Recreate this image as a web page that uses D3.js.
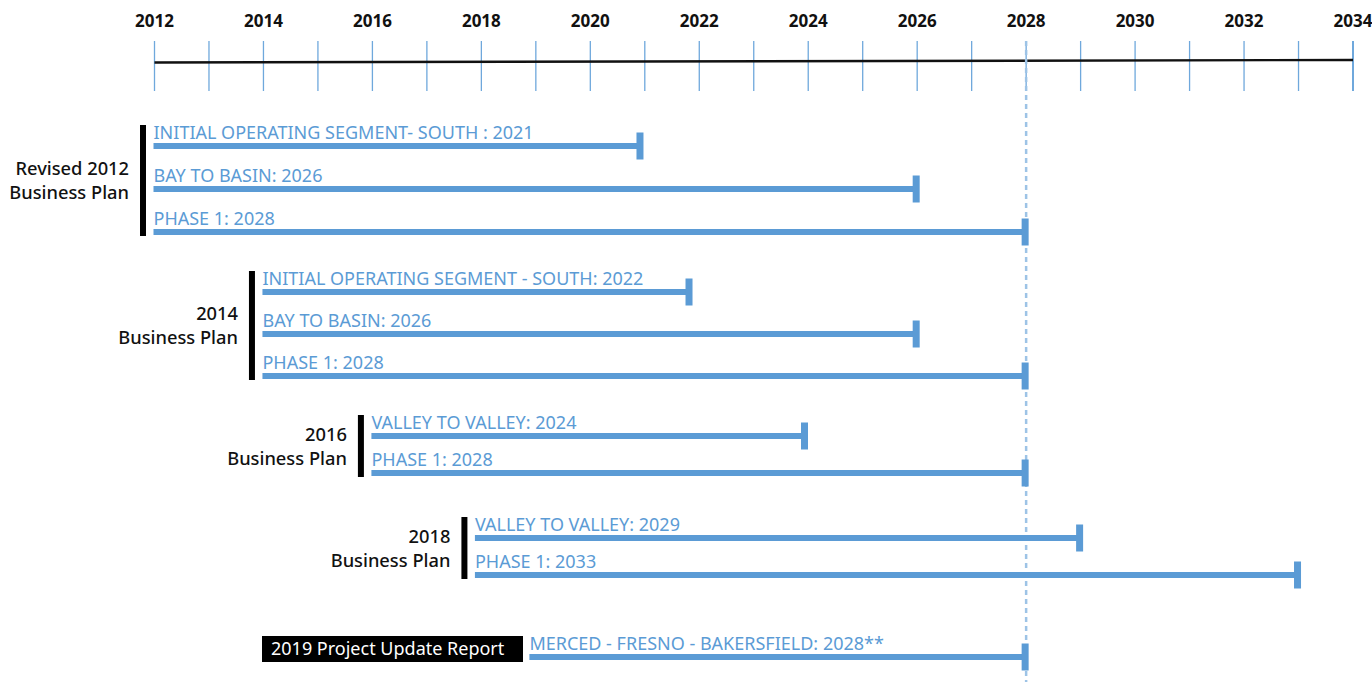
<!DOCTYPE html>
<html>
<head>
<meta charset="utf-8">
<script src="https://cdn.jsdelivr.net/npm/d3@7"></script>
<style>
  body { margin: 0; background: #fff; }
  svg { display: block; font-family: "Noto Sans", "Open Sans", sans-serif; }
</style>
</head>
<body>
<svg id="chart" width="1372" height="682"></svg>
<script>
// ---- data ----
var axis_years = [2012, 2034];
var tick_labels = [2012, 2014, 2016, 2018, 2020, 2022, 2024, 2026, 2028, 2030, 2032, 2034];
var marker_year = 2028;

var group_labels = [
    ["Revised 2012", "Business Plan"],
    ["2014", "Business Plan"],
    ["2016", "Business Plan"],
    ["2018", "Business Plan"],
    ["2019 Project Update Report"]
];

var seg_labels = [
    "INITIAL OPERATING SEGMENT- SOUTH : 2021",
    "BAY TO BASIN: 2026",
    "PHASE 1: 2028",
    "INITIAL OPERATING SEGMENT - SOUTH: 2022",
    "BAY TO BASIN: 2026",
    "PHASE 1: 2028",
    "VALLEY TO VALLEY: 2024",
    "PHASE 1: 2028",
    "VALLEY TO VALLEY: 2029",
    "PHASE 1: 2033",
    "MERCED - FRESNO - BAKERSFIELD: 2028**"
];
var seg_group = [0, 0, 0, 1, 1, 1, 2, 2, 3, 3, 4];
var seg_start = [2012, 2012, 2012, 2014, 2014, 2014, 2016, 2016, 2017.9, 2017.9, 2018.9];
var seg_end = [2020.93, 2026, 2028, 2021.83, 2026, 2028, 2023.95, 2028, 2029, 2033, 2028];

// ---- layout ----
var group_top = [146, 292, 436, 538, 657];
var row_step = [43, 42, 37, 37, 0];
var bar_color = "#5b9bd5";
var tick_color = "#6fa8dc";

var svg = d3.select("#chart");

var x = d3.scaleLinear().domain(axis_years).range([154.5, 1353]);

// row index within its group
var row_in_group = seg_group.map(function (g, i) {
    return seg_group.slice(0, i).filter(function (v) { return v === g; }).length;
});
function bar_y(i) { return group_top[seg_group[i]] + row_in_group[i] * row_step[seg_group[i]]; }

// Axis: year ticks every year, labels every two years
var all_years = d3.range(axis_years[0], axis_years[1] + 1);
svg.append("g").selectAll("line")
    .data(all_years)
    .enter()
    .append("line")
    .attr("x1", function (d) { return x(d); })
    .attr("x2", function (d) { return x(d); })
    .attr("y1", 41)
    .attr("y2", 91)
    .attr("stroke", tick_color)
    .attr("stroke-width", function (d) { return d === axis_years[1] ? 2 : 1.3; });

// black timeline (slightly slanted as in the original)
svg.append("line")
    .attr("x1", x(axis_years[0])).attr("y1", 62.5)
    .attr("x2", x(axis_years[1])).attr("y2", 60)
    .attr("stroke", "#111")
    .attr("stroke-width", 2.4);

svg.append("g").selectAll("text")
    .data(tick_labels)
    .enter()
    .append("text")
    .attr("x", function (d) { return x(d); })
    .attr("y", 27)
    .attr("text-anchor", "middle")
    .style("font-size", "17px")
    .style("font-weight", "bold")
    .style("fill", "#111")
    .text(function (d) { return d; });

// dashed marker at 2028
svg.append("line")
    .attr("x1", x(marker_year)).attr("x2", x(marker_year))
    .attr("y1", 41).attr("y2", 682)
    .attr("stroke", "#9dc3e6")
    .attr("stroke-width", 2.5)
    .attr("stroke-dasharray", "5,4");

// group brackets + labels
var group_idx = d3.range(group_labels.length);
group_idx.forEach(function (g) {
    var rows = d3.range(seg_labels.length).filter(function (i) { return seg_group[i] === g; });
    var first = rows[0], last = rows[rows.length - 1];
    var bx = x(seg_start[first]) - 11.5;
    var y0 = bar_y(first) - 21, y1 = bar_y(last) + 4;

    if (group_labels[g].length > 1) {
        svg.append("rect")
            .attr("x", bx - 3).attr("y", y0)
            .attr("width", 6).attr("height", y1 - y0)
            .attr("fill", "#000");
        var cy = (y0 + y1) / 2;
        svg.append("g").selectAll("text")
            .data(group_labels[g])
            .enter()
            .append("text")
            .attr("x", bx - 14)
            .attr("y", function (d, k) { return cy - 5.5 + k * 24; })
            .attr("text-anchor", "end")
            .style("font-size", "18.3px")
            .style("font-weight", 500)
            .style("fill", "#111")
            .text(function (d) { return d; });
    } else {
        // boxed label for the 2019 report
        var box = svg.append("g");
        box.append("rect")
            .attr("x", 262).attr("y", bar_y(first) - 21)
            .attr("width", 261).attr("height", 26)
            .attr("fill", "#000");
        box.append("text")
            .attr("x", 271)
            .attr("y", bar_y(first) - 2)
            .style("font-size", "18px")
            .style("fill", "#fff")
            .text(group_labels[g][0]);
    }
});

// bars
var seg_idx = d3.range(seg_labels.length);
var bars = svg.append("g").selectAll(".seg")
    .data(seg_idx)
    .enter()
    .append("g")
    .attr("class", "seg");

bars.append("rect")
    .attr("x", function (i) { return x(seg_start[i]) - 1; })
    .attr("y", function (i) { return bar_y(i) - 3; })
    .attr("width", function (i) { return x(seg_end[i]) - x(seg_start[i]); })
    .attr("height", 6)
    .attr("fill", bar_color);

// end caps
bars.append("rect")
    .attr("x", function (i) { return x(seg_end[i]) - 4.5; })
    .attr("y", function (i) { return bar_y(i) - 13.5; })
    .attr("width", 7)
    .attr("height", 27)
    .attr("fill", bar_color);

bars.append("text")
    .attr("x", function (i) { return x(seg_start[i]) - 1; })
    .attr("y", function (i) { return bar_y(i) - 7; })
    .style("font-size", "18px")
    .style("fill", bar_color)
    .text(function (i) { return seg_labels[i]; });
</script>
</body>
</html>
